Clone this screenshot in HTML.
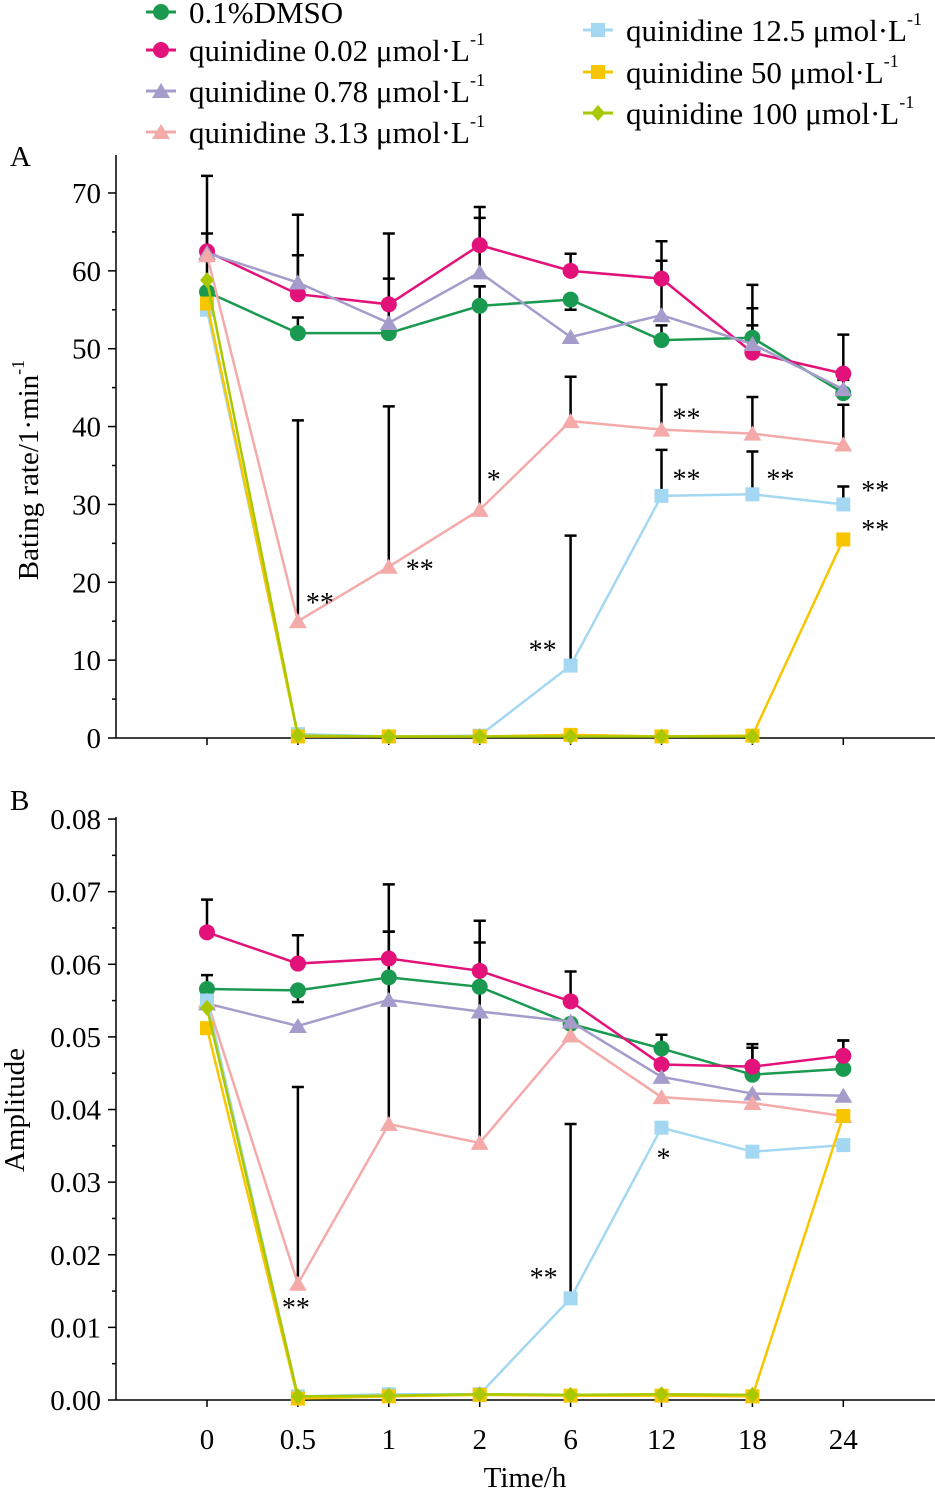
<!DOCTYPE html>
<html><head><meta charset="utf-8"><style>
html,body{margin:0;padding:0;background:#fff;}
svg{display:block;font-family:"Liberation Serif",serif;}
</style></head><body>
<svg id="chart" width="935" height="1491" viewBox="0 0 935 1491"></svg>
<script>
const categories=["0","0.5","1","2","6","12","18","24"];
const seriesNames=["0.1%DMSO","quinidine 0.02 μmol·L","quinidine 0.78 μmol·L","quinidine 3.13 μmol·L","quinidine 12.5 μmol·L","quinidine 50 μmol·L","quinidine 100 μmol·L"];
const colors=["#1a9a50","#e2127a","#a59ccb","#f5aaaa","#a4d8f2","#f7c600","#a9c800"];
const markers=["circle","circle","triangle","triangle","square","square","diamond"];
const rateDMSO=[57.3,52,52,55.5,56.3,51.1,51.4,44.3];
const rate002=[62.5,57,55.7,63.3,60,59,49.5,46.8];
const rate078=[62.3,58.5,53.3,59.8,51.5,54.3,50.6,44.8];
const rate313=[62,15,22,29.3,40.7,39.6,39.1,37.7];
const rate125=[55,0.5,0.2,0.3,9.3,31.1,31.3,30];
const rate50=[55.8,0.2,0.2,0.2,0.4,0.2,0.3,25.5];
const rate100=[58.8,0.3,0.2,0.2,0.2,0.2,0.2,null];
const rateErrDMSO=[64.8,54,59,58,55,53,53,46];
const rateErr002=[72.2,67.2,64.8,68.2,62.2,63.8,58.2,51.8];
const rateErr078=[null,62,null,66.8,null,61.3,55.2,null];
const rateErr313=[null,40.8,42.6,58,46.4,45.4,43.8,42.8];
const rateErr125=[null,null,null,null,26,37,36.8,32.3];
const ampDMSO=[0.0566,0.0564,0.0582,0.0569,0.0518,0.0484,0.0448,0.0456];
const amp002=[0.0644,0.0601,0.0608,0.0591,0.0549,0.0462,0.0459,0.0474];
const amp078=[0.0546,0.0515,0.0551,0.0535,0.0521,0.0445,0.0422,0.0419];
const amp313=[0.055,0.016,0.038,0.0354,0.0502,0.0417,0.0409,0.0391];
const amp125=[0.055,0.0005,0.0008,0.0008,0.014,0.0375,0.0342,0.0351];
const amp50=[0.0512,0.0002,0.0005,0.0007,0.0006,0.0006,0.0005,0.0391];
const amp100=[0.054,0.0005,0.0006,0.0008,0.0007,0.0008,0.0007,null];
const ampErrDMSO=[0.0585,0.0548,0.0645,0.063,null,0.0503,0.0485,0.0495];
const ampErr002=[0.0689,0.064,0.0645,0.066,0.059,0.0503,0.049,0.0495];
const ampErr313=[null,0.0431,0.071,0.066,null,null,null,null];
const ampErr125=[null,null,null,null,0.038,null,null,null];
const rateTicks=[0,10,20,30,40,50,60,70];
const ampTicks=["0.00","0.01","0.02","0.03","0.04","0.05","0.06","0.07","0.08"];
const starTextA=["**","**","*","**","**","**","**","**","**"];
const starCatA=[1,2,3,4,5,5,6,7,7];
const starValA=[17.7,22,33.5,11.6,41.4,33.6,33.6,32.1,27.1];
const starDxA=[22,31,14,-28,25,25,28,32,32];
const starTextB=["**","**","*"];
const starCatB=[1,4,5];
const starValB=[0.0131,0.0172,0.0337];
const starDxB=[-2,-27,2];

const svg=document.getElementById('chart');
const NS="http://www.w3.org/2000/svg";
function mk(tag,attrs,parent){const e=document.createElementNS(NS,tag);for(const k in attrs)e.setAttribute(k,attrs[k]);(parent||svg).appendChild(e);return e;}
function xPos(i){return 207+i*90.9;}
const yA=v=>738-v*7.786;
const yB=v=>1400-v*7262;

function marker(g,type,x,y,c){
  let e;
  if(type=="circle")e=mk('circle',{cx:x,cy:y,r:8,fill:c},g);
  else if(type=="square")e=mk('rect',{x:x-7,y:y-7,width:14,height:14,fill:c},g);
  else if(type=="triangle")e=mk('polygon',{points:`${x},${y-8} ${x-9},${y+7} ${x+9},${y+7}`,fill:c},g);
  else e=mk('polygon',{points:`${x},${y-8} ${x+7},${y} ${x},${y+8} ${x-7},${y}`,fill:c},g);
  return e;
}
function panel(name,top,yfun,ticks,tickVals,minorStep,series,errs,sText,sCat,sVal,sDx,label,labelPos){
  const g=mk('g',{});
  
  
  const y0=yfun(0);
  const ax=mk('line',{x1:116,y1:top,x2:116,y2:y0,stroke:'#000','stroke-width':1.5},g);
  
  const xa=mk('line',{x1:116,y1:y0,x2:935,y2:y0,stroke:'#000','stroke-width':1.5},g);
  
  tickVals.forEach((v,i)=>{
    const y=yfun(v);
    mk('line',{x1:108,y1:y,x2:116,y2:y,stroke:'#000','stroke-width':1.5},g);
    const my=yfun(v+minorStep);
    if(i<tickVals.length-1||my>top)mk('line',{x1:112,y1:my,x2:116,y2:my,stroke:'#000','stroke-width':1.5},g);
    const t=mk('text',{x:101,y:y+10,'font-size':29,'text-anchor':'end'},g);
    t.textContent=ticks[i];
    
  });
  categories.forEach((c,i)=>mk('line',{x1:xPos(i),y1:y0,x2:xPos(i),y2:y0+7,stroke:'#000','stroke-width':1.5},g));
  errs.forEach(([si,arr])=>{
    arr.forEach((v,i)=>{
      if(v==null)return;
      const x=xPos(i),yt=yfun(v),yb=yfun(series[si][i]);
      const e=mk('path',{d:`M${x},${yb}V${yt}M${x-6},${yt}H${x+6}`,stroke:'#000','stroke-width':2.5,fill:'none'},g);
      
    });
  });
  series.forEach((arr,si)=>{
    const sg=mk('g',{},g);
    
    
    const pts=[];arr.forEach((v,i)=>{if(v!=null)pts.push(xPos(i)+','+yfun(v));});
    mk('polyline',{points:pts.join(' '),fill:'none',stroke:colors[si],'stroke-width':2.5},sg);
    arr.forEach((v,i)=>{if(v!=null){const m=marker(sg,markers[si],xPos(i),yfun(v),colors[si]);}});
  });
  sText.forEach((s,k)=>{
    const t=mk('text',{x:xPos(sCat[k])+sDx[k],y:yfun(sVal[k])+12,'font-size':28,'text-anchor':'middle'},g);
    t.textContent=s;
    
  });
  const pl=mk('text',{x:labelPos[0],y:labelPos[1],'font-size':29},g);
  pl.textContent=label;
}
panel('panel-a',155,yA,rateTicks,rateTicks,5,[rateDMSO,rate002,rate078,rate313,rate125,rate50,rate100],
  [[0,rateErrDMSO],[1,rateErr002],[2,rateErr078],[3,rateErr313],[4,rateErr125]],starTextA,starCatA,starValA,starDxA,'A',[10,166]);
panel('panel-b',817,yB,ampTicks,ampTicks.map(Number),0.005,[ampDMSO,amp002,amp078,amp313,amp125,amp50,amp100],
  [[0,ampErrDMSO],[1,ampErr002],[3,ampErr313],[4,ampErr125]],starTextB,starCatB,starValB,starDxB,'B',[10,810]);

categories.forEach((c,i)=>{
  const t=mk('text',{x:xPos(i),y:1449,'font-size':29,'text-anchor':'middle'});
  t.textContent=c;
  
  
});
const xt=mk('text',{x:525,y:1487,'font-size':29,'text-anchor':'middle'});
xt.textContent='Time/h';


const ya=mk('text',{transform:'translate(38,470) rotate(-90)','font-size':29,'text-anchor':'middle'});
ya.innerHTML='Bating rate/1·min<tspan dy="-14" font-size="18">-1</tspan>';


const yb=mk('text',{transform:'translate(24,1110) rotate(-90)','font-size':29,'text-anchor':'middle'});
yb.textContent='Amplitude';



const legPos=[[146,12],[146,50],[146,91],[146,132],[583,30],[583,72],[583,113]];
seriesNames.forEach((n,i)=>{
  const g=mk('g',{});
  
  
  const [x,y]=legPos[i];
  mk('line',{x1:x,y1:y,x2:x+30,y2:y,stroke:colors[i],'stroke-width':3},g);
  marker(g,markers[i],x+15,y,colors[i]);
  const t=mk('text',{x:x+43,y:y+11,'font-size':31},g);
  t.innerHTML=n+(i>0?'<tspan dy="-16" font-size="18">-1</tspan>':'');
});
</script>
</body></html>
